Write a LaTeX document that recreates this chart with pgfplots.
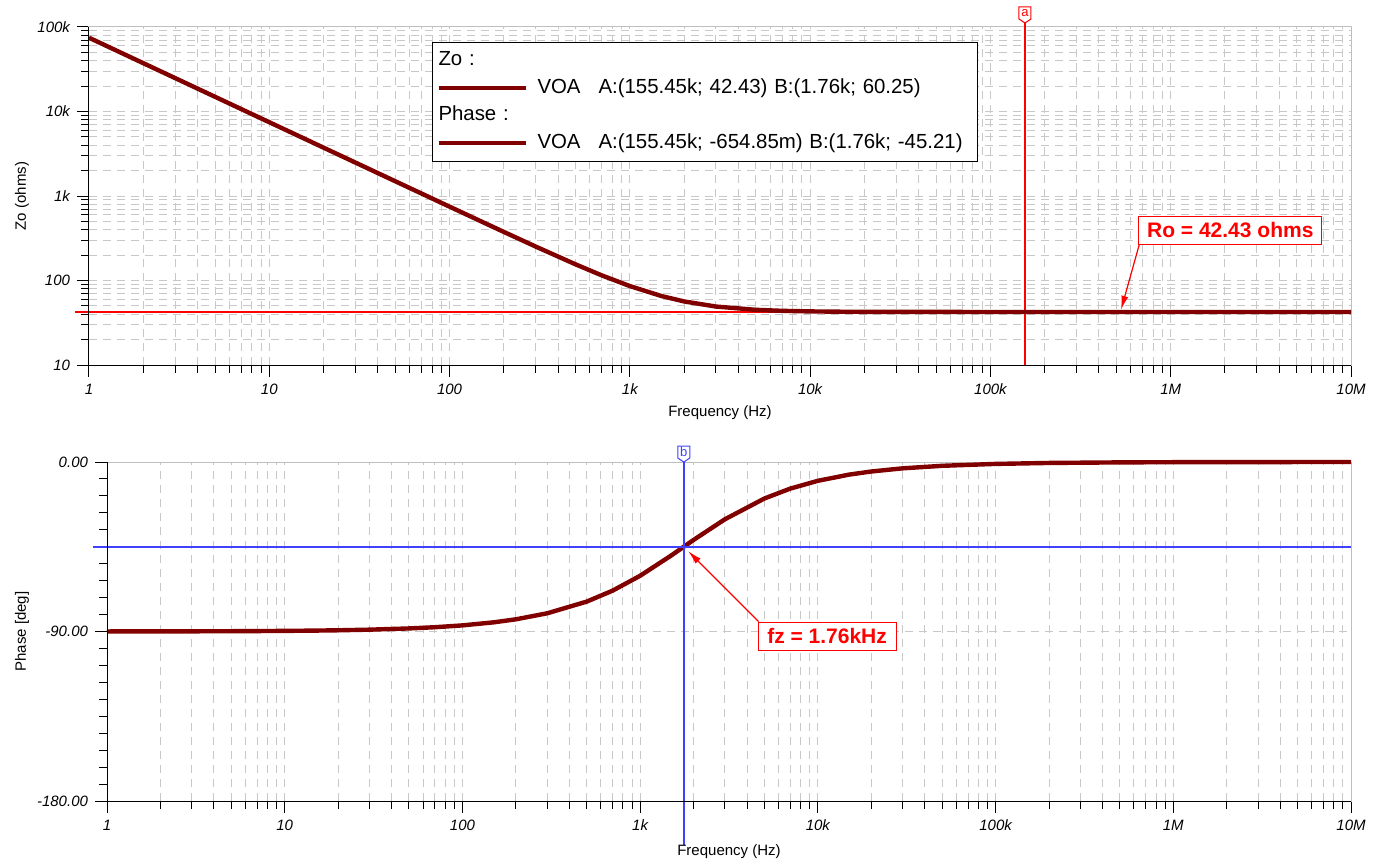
\documentclass[border=0pt]{standalone}
\usepackage{fontspec}
\setmainfont{Liberation Sans}
\usepackage{pgfplots}
\pgfplotsset{compat=1.18}
\usetikzlibrary{arrows.meta}
\definecolor{curvecol}{RGB}{128,0,0}
\definecolor{cursorred}{RGB}{255,0,0}
\definecolor{cursorblue}{RGB}{64,64,255}
\definecolor{gridc}{RGB}{200,200,200}
\definecolor{framec}{RGB}{190,190,190}

\pgfplotstableread{
f Zo
1 74677
1.5 49787
2 37338
3 24892
5 14935
7 10668
10 7468
15 4979
20 3734
30 2490
50 1494
70 1068
100 748.0
150 499.6
200 375.8
300 252.5
500 155.3
700 114.8
1000 85.89
1500 65.41
2000 56.52
3000 49.19
5000 44.98
7000 43.75
10000 43.08
15000 42.72
20000 42.59
30000 42.50
50000 42.46
100000 42.44
1000000 42.43
10000000 42.43
}\zotable

\pgfplotstableread{
f ph
1 -89.97
1.5 -89.95
2 -89.93
3 -89.90
5 -89.84
7 -89.77
10 -89.67
15 -89.51
20 -89.35
30 -89.02
50 -88.37
70 -87.72
100 -86.75
150 -85.13
200 -83.52
300 -80.33
500 -74.14
700 -68.31
1000 -60.40
1500 -49.56
1760 -45.00
2000 -41.35
3000 -30.40
5000 -19.39
7000 -14.11
10000 -9.98
15000 -6.69
20000 -5.03
30000 -3.36
50000 -2.02
100000 -1.01
200000 -0.50
500000 -0.20
1000000 -0.10
2000000 -0.05
5000000 -0.02
10000000 -0.01
}\phtable

\pgfplotsset{
  bodestyle/.style={
    scale only axis,
    xtick={1,10,100,1000,10000,100000,1000000,10000000},
    xticklabels={1,10,100,1k,10k,100k,1M,10M},
    minor xtick={2,3,4,5,6,7,8,9,20,30,40,50,60,70,80,90,200,300,400,500,600,700,800,900,2000,3000,4000,5000,6000,7000,8000,9000,20000,30000,40000,50000,60000,70000,80000,90000,200000,300000,400000,500000,600000,700000,800000,900000,2000000,3000000,4000000,5000000,6000000,7000000,8000000,9000000},
    tick pos=left, tick align=outside,
    major tick length=6pt, minor tick length=4pt,
    tick style={black, line width=0.5pt},
    ticklabel style={font=\fontsize{7.5}{9}\selectfont\itshape},
    label style={font=\fontsize{7.5}{9}\selectfont},
    axis line style={framec, line width=0.5pt},
    grid style={gridc, dash pattern=on 4pt off 3pt, line width=0.5pt},
    clip=false,
  }
}

\begin{document}
\begin{tikzpicture}
\useasboundingbox (0,0) rectangle (690pt,-433.5pt);

% ---------- top: output impedance ----------
\begin{axis}[bodestyle, xmode=log, xmin=1, xmax=1e7,
  at={(44.5pt,-182.5pt)}, anchor=south west, width=631pt, height=169pt,
  ymode=log, ymin=10, ymax=1e5,
  ytick={10,100,1000,10000,100000},
  yticklabels={10,100,1k,10k,100k},
  minor ytick={20,30,40,50,60,70,80,90,200,300,400,500,600,700,800,900,2000,3000,4000,5000,6000,7000,8000,9000,20000,30000,40000,50000,60000,70000,80000,90000},
  grid=both,
  xlabel={Frequency (Hz)}, ylabel={Zo (ohms)},
  xlabel style={at={(axis description cs:0.5,-0.14)}, anchor=center},
  ylabel style={at={(axis description cs:-0.0531,0.5)}, anchor=center},
]
\draw[draw=cursorred, line width=0.75pt] ([xshift=-7pt]axis cs:1,42.43) -- (axis cs:10000000,42.43);
\draw[draw=cursorred, line width=0.75pt] (axis cs:155450,10) -- ([yshift=2pt]axis cs:155450,100000);
\draw[draw=cursorred, fill=white, line width=0.5pt] ([yshift=2pt]axis cs:155450,100000) -- ++(-3pt,2pt) -- ++(0pt,6pt) -- ++(6pt,0pt) -- ++(0pt,-6pt) -- cycle;
\node[text=cursorred, font=\fontsize{6.5}{7}\selectfont, inner sep=0pt] at ([yshift=7pt]axis cs:155450,100000) {a};
\addplot[curvecol, line width=2.2pt] table[x=f, y=Zo] {\zotable};
\node[draw=cursorred, fill=white, text=cursorred, line width=0.5pt, inner sep=0pt,
  minimum width=91.5pt, minimum height=14pt,
  font=\bfseries\fontsize{10.5}{12}\selectfont] (ro) at (axis cs:2140000,396) {Ro = 42.43 ohms};
\draw[draw=cursorred, line width=0.6pt, -{Latex[length=7pt,width=3.5pt]}] ([xshift=0.5pt]ro.south west) -- (axis cs:530000,45);
\draw[black, line width=0.5pt] (rel axis cs:0,1) -- (rel axis cs:0,0) -- (rel axis cs:1,0);
\end{axis}

% ---------- bottom: phase ----------
\begin{axis}[bodestyle, xmode=log, xmin=1, xmax=1e7,
  at={(53.5pt,-400.5pt)}, anchor=south west, width=622pt, height=169.5pt,
  ymin=-180, ymax=0,
  ytick={-180,-90,0},
  yticklabels={-180.00,-90.00,0.00},
  minor y tick num=9,
  xmajorgrids, xminorgrids, ymajorgrids,
  xlabel={Frequency (Hz)}, ylabel={Phase [deg]},
  xlabel style={at={(axis description cs:0.5,-0.15)}, anchor=center},
  ylabel style={at={(axis description cs:-0.0683,0.5)}, anchor=center},
]
\addplot[curvecol, line width=2.2pt] table[x=f, y=ph] {\phtable};
\draw[draw=cursorblue, line width=1pt] ([xshift=-7pt]axis cs:1,-45.21) -- (axis cs:10000000,-45.21);
\draw[draw=cursorblue, line width=1pt] ([yshift=-22pt]axis cs:1760,-180) -- (axis cs:1760,0);
\draw[draw=cursorblue, fill=white, line width=0.5pt] (axis cs:1760,0) -- ++(-3pt,2pt) -- ++(0pt,6pt) -- ++(6pt,0pt) -- ++(0pt,-6pt) -- cycle;
\node[text=cursorblue, font=\fontsize{6.5}{7}\selectfont, inner sep=0pt] at ([yshift=5pt]axis cs:1760,0) {b};
\node[draw=cursorred, fill=white, text=cursorred, line width=0.5pt, inner sep=0pt,
  minimum width=69pt, minimum height=14pt,
  font=\bfseries\fontsize{10.5}{12}\selectfont] (fz) at (axis cs:11270,-92.4) {fz = 1.76kHz};
\draw[draw=cursorred, line width=0.6pt, -{Latex[length=7pt,width=3.5pt]}] ([xshift=0.5pt]fz.north west) -- (axis cs:1862,-47.3);
\draw[black, line width=0.5pt] (rel axis cs:0,1) -- (rel axis cs:0,0) -- (rel axis cs:1,0);
\end{axis}

% ---------- legend box ----------
\begin{scope}[x=0.5pt, y=-0.5pt]
\node[draw=black, fill=white, line width=0.5pt, anchor=north west, inner xsep=3pt, inner ysep=4.5pt,
  text width=266.5pt, align=left, font=\fontsize{10.2}{13.85}\selectfont] at (432,42) {%
Zo :\\
{\color{curvecol}\rule[0.3ex]{43.5pt}{2pt}}\hspace{6pt}VOA\hspace{9pt}A:(155.45k; 42.43) B:(1.76k; 60.25)\\
Phase :\\
{\color{curvecol}\rule[0.3ex]{43.5pt}{2pt}}\hspace{6pt}VOA\hspace{9pt}A:(155.45k; -654.85m) B:(1.76k; -45.21)};
\end{scope}
\end{tikzpicture}
\end{document}
